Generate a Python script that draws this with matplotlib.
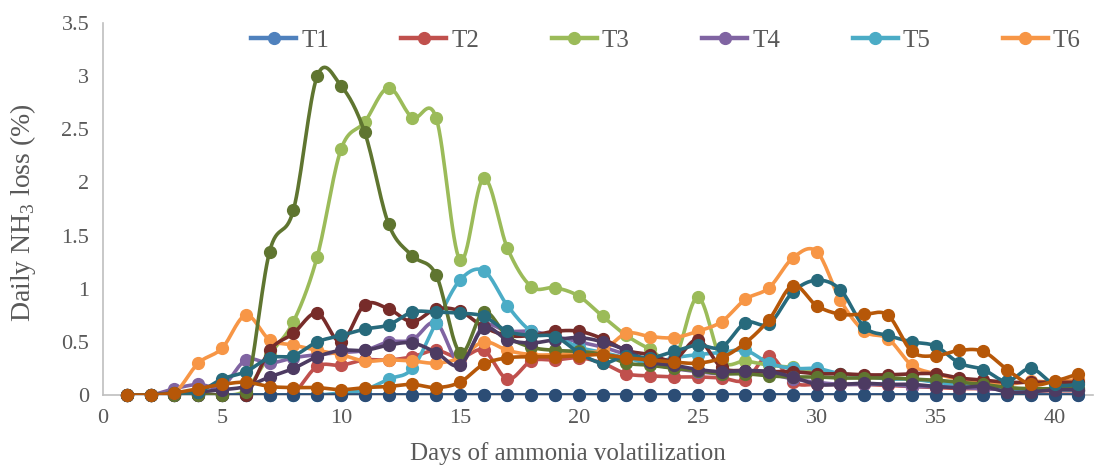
import numpy as np
import matplotlib
matplotlib.use("Agg")
import matplotlib.pyplot as plt
from matplotlib.lines import Line2D

plt.rcParams['font.family'] = 'Liberation Serif'
plt.rcParams['mathtext.fontset'] = 'custom'
plt.rcParams['mathtext.rm'] = 'Liberation Serif'

days = list(range(1, 42))

# light series (in legend)
t1 = [0.0] * 41
t2 = [0, 0, 0, 0, 0, 0, 0, 0.02, 0.27, 0.28, 0.33, 0.33, 0.36, 0.42, 0.35, 0.42,
      0.15, 0.32, 0.33, 0.35, 0.30, 0.20, 0.18, 0.17, 0.17, 0.16, 0.14, 0.37, 0.12,
      0.10, 0.10, 0.10, 0.09, 0.08, 0.07, 0.06, 0.06, 0.05, 0.04, 0.04, 0.04]
t3 = [0, 0, 0, 0.02, 0, 0.05, 0.38, 0.69, 1.30, 2.31, 2.57, 2.89, 2.61, 2.61, 1.27,
      2.04, 1.38, 1.02, 1.01, 0.93, 0.74, 0.56, 0.43, 0.33, 0.92, 0.33, 0.32, 0.28,
      0.26, 0.22, 0.20, 0.18, 0.16, 0.15, 0.13, 0.12, 0.10, 0.07, 0.05, 0.05, 0.05]
t4 = [0, 0, 0.06, 0.10, 0.08, 0.33, 0.30, 0.35, 0.38, 0.40, 0.42, 0.50, 0.52, 0.68,
      0.30, 0.65, 0.60, 0.60, 0.55, 0.50, 0.45, 0.38, 0.30, 0.25, 0.22, 0.20, 0.22,
      0.20, 0.15, 0.12, 0.10, 0.10, 0.10, 0.08, 0.08, 0.07, 0.06, 0.05, 0.05, 0.05, 0.05]
t5 = [0, 0, 0, 0, 0, 0, 0, 0, 0, 0.02, 0.05, 0.15, 0.25, 0.68, 1.08, 1.17, 0.84, 0.60,
      0.55, 0.45, 0.40, 0.35, 0.30, 0.35, 0.38, 0.40, 0.42, 0.30, 0.25, 0.25, 0.20,
      0.18, 0.15, 0.15, 0.12, 0.10, 0.10, 0.05, 0.05, 0.05, 0.05]
t6 = [0, 0, 0.02, 0.30, 0.44, 0.75, 0.52, 0.47, 0.42, 0.38, 0.32, 0.33, 0.32, 0.30,
      0.35, 0.50, 0.42, 0.38, 0.38, 0.40, 0.42, 0.58, 0.55, 0.54, 0.60, 0.69, 0.90,
      1.01, 1.29, 1.35, 0.89, 0.60, 0.53, 0.28, 0.20, 0.15, 0.12, 0.10, 0.13, 0.12, 0.15]

# dark series (not in legend)
t1b = [0.0] * 41
t2b = [0, 0, 0, 0, 0, 0, 0.42, 0.58, 0.77, 0.50, 0.85, 0.81, 0.69, 0.81, 0.79, 0.64,
       0.56, 0.56, 0.60, 0.60, 0.53, 0.42, 0.38, 0.33, 0.52, 0.26, 0.23, 0.22, 0.22,
       0.20, 0.20, 0.19, 0.19, 0.20, 0.20, 0.16, 0.14, 0.12, 0.12, 0.12, 0.12]
t3b = [0, 0, 0, 0, 0, 0.03, 1.35, 1.74, 3.00, 2.91, 2.47, 1.61, 1.31, 1.13, 0.40, 0.78,
       0.55, 0.45, 0.42, 0.41, 0.38, 0.30, 0.28, 0.25, 0.23, 0.20, 0.20, 0.18, 0.17,
       0.17, 0.16, 0.16, 0.16, 0.15, 0.14, 0.12, 0.10, 0.07, 0.06, 0.06, 0.07]
t4b = [0, 0, 0.02, 0.03, 0.05, 0.08, 0.17, 0.25, 0.36, 0.42, 0.42, 0.47, 0.49, 0.40,
       0.28, 0.63, 0.52, 0.49, 0.52, 0.54, 0.50, 0.42, 0.31, 0.28, 0.24, 0.22, 0.23,
       0.22, 0.17, 0.10, 0.10, 0.11, 0.10, 0.10, 0.08, 0.07, 0.08, 0.03, 0.03, 0.05, 0.05]
t5b = [0, 0, 0.02, 0.03, 0.15, 0.22, 0.35, 0.37, 0.50, 0.56, 0.62, 0.66, 0.78, 0.78,
       0.77, 0.74, 0.60, 0.56, 0.55, 0.40, 0.30, 0.37, 0.35, 0.41, 0.47, 0.45, 0.68,
       0.67, 0.97, 1.08, 0.99, 0.64, 0.56, 0.50, 0.46, 0.30, 0.24, 0.13, 0.25, 0.10, 0.10]
t6b = [0, 0, 0.02, 0.06, 0.10, 0.12, 0.08, 0.07, 0.07, 0.05, 0.07, 0.08, 0.10, 0.07,
       0.12, 0.29, 0.35, 0.36, 0.36, 0.37, 0.38, 0.35, 0.33, 0.31, 0.30, 0.35, 0.49,
       0.71, 1.03, 0.84, 0.76, 0.76, 0.75, 0.41, 0.37, 0.42, 0.41, 0.24, 0.10, 0.13, 0.20]

labels = ['T1', 'T2', 'T3', 'T4', 'T5', 'T6']
light = ['#4F81BD', '#C0504D', '#9BBB59', '#8064A2', '#4BACC6', '#F79646']
dark = ['#2C4D75', '#772C2A', '#5F7530', '#4D3B62', '#276A7C', '#B65708']


def smooth(x, y, n=16):
    # Excel-like smoothed line (Catmull-Rom through the points)
    x = np.asarray(x, float)
    y = np.asarray(y, float)
    px = np.concatenate([[x[0]], x, [x[-1]]])
    py = np.concatenate([[y[0]], y, [y[-1]]])
    t = np.linspace(0, 1, n, endpoint=False)
    xs, ys = [], []
    for i in range(1, len(px) - 2):
        p0, p3 = np.array([px[i], py[i]]), np.array([px[i + 1], py[i + 1]])
        p1 = p0 + (np.array([px[i + 1], py[i + 1]]) - np.array([px[i - 1], py[i - 1]])) / 6
        p2 = p3 - (np.array([px[i + 2], py[i + 2]]) - np.array([px[i], py[i]])) / 6
        b = ((1 - t) ** 3)[:, None] * p0 + (3 * (1 - t) ** 2 * t)[:, None] * p1 \
            + (3 * (1 - t) * t ** 2)[:, None] * p2 + (t ** 3)[:, None] * p3
        xs.extend(b[:, 0])
        ys.extend(b[:, 1])
    xs.append(x[-1])
    ys.append(y[-1])
    return xs, ys


fig = plt.figure(figsize=(10.97, 4.65), dpi=100)
ax = fig.add_axes([0.094, 0.1505, 0.902, 0.80])

series = [t1, t2, t3, t4, t5, t6, t1b, t2b, t3b, t4b, t5b, t6b]
colors = light + dark
for k, (vals, c) in enumerate(zip(series, colors)):
    sx, sy = smooth(days, vals)
    ax.plot(sx, sy, color=c, lw=2.6, zorder=2 + k)
    ax.plot(days, vals, ls='none', marker='o', ms=8.5, color=c, zorder=2 + k, clip_on=False)

ax.set_xlim(0, 41.6)
ax.set_ylim(0, 3.5)
ax.set_xticks(range(0, 41, 5))
ax.set_yticks([0, 0.5, 1, 1.5, 2, 2.5, 3, 3.5])
ax.set_yticklabels(['0', '0.5', '1', '1.5', '2', '2.5', '3', '3.5'])
ax.tick_params(length=0, labelsize=16, colors='#595959', pad=10)
for s in ['top', 'right']:
    ax.spines[s].set_visible(False)
for s in ['left', 'bottom']:
    ax.spines[s].set_color('#BFBFBF')
    ax.spines[s].set_linewidth(1.2)

ax.set_xlabel('Days of ammonia volatilization', fontsize=18, color='#595959')
ax.xaxis.set_label_coords(0.47, -0.125)
ax.set_ylabel('Daily NH$_{\\mathrm{3}}$ loss (%)', fontsize=20, color='#595959')
ax.yaxis.set_label_coords(-0.066, 0.49)

handles = [Line2D([], [], color=c, lw=3.2, marker='o', ms=8.5) for c in light]
fig.legend(handles, labels, loc='center', bbox_to_anchor=(0.607, 0.912), ncol=6,
           frameon=False, fontsize=18, handlelength=1.8, handletextpad=0.2,
           columnspacing=2.9, labelcolor='#595959')

fig.savefig('out.png', dpi=100)
